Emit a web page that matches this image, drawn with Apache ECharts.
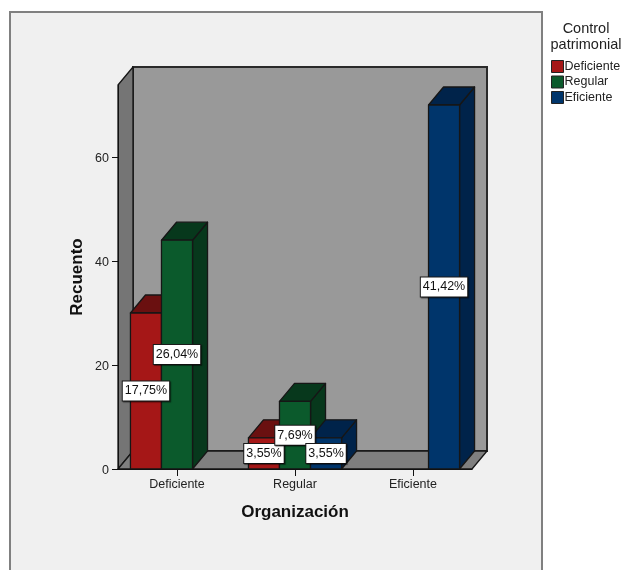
<!DOCTYPE html>
<html>
<head>
<meta charset="utf-8">
<style>html,body{margin:0;padding:0;background:#fff}#chart{width:623px;height:570px}</style>
<script src="https://cdn.jsdelivr.net/npm/echarts@6/dist/echarts.min.js"></script>
</head>
<body>
<div id="chart"></div>
<script>
// Recuento por nivel de organización y control patrimonial
const categories = ['Deficiente', 'Regular', 'Eficiente'];
const yTicks = [0, 20, 40, 60];
const deficiente = [30, 6, null];
const regular = [44, 13, null];
const eficiente = [null, 6, 70];
const totalCasos = 169;

// Perspective offset of the box, and bar width relative to a category band
const DEPTH_X = 15;
const DEPTH_Y = 18;
const BAR_RATIO = 0.263;
const EDGE = '#161616';

const palette = [
  { name: 'Deficiente', values: deficiente, front: '#a51717', top: '#6a1010', side: '#6a1010' },
  { name: 'Regular', values: regular, front: '#0b5a2c', top: '#07381c', side: '#07381c' },
  { name: 'Eficiente', values: eficiente, front: '#00356b', top: '#00234a', side: '#00234a' }
];

const poly = (points, fill, z2) => ({
  type: 'polygon',
  z2: z2 || 0,
  shape: { points },
  style: { fill, stroke: EDGE, lineWidth: 1.3, lineJoin: 'round' }
});

const pct = v => (v / totalCasos * 100).toFixed(2).replace('.', ',') + '%';

// Back wall, left wall and floor of the box
function renderWalls(params) {
  const r = params.coordSys;
  const l = r.x, t = r.y, b = r.y + r.height, w = r.width;
  return {
    type: 'group',
    children: [
      {
        type: 'rect',
        shape: { x: l + DEPTH_X, y: t - DEPTH_Y, width: w, height: r.height },
        style: { fill: '#999999', stroke: '#2a2a2a', lineWidth: 2 }
      },
      poly([[l, t], [l + DEPTH_X, t - DEPTH_Y], [l + DEPTH_X, b - DEPTH_Y], [l, b]], '#757575'),
      poly([[l, b], [l + w, b], [l + w + DEPTH_X, b - DEPTH_Y], [l + DEPTH_X, b - DEPTH_Y]], '#7f7f7f')
    ]
  };
}

// One extruded bar with its centred percentage box
function renderBar(seriesPos) {
  return function (params, api) {
    const value = api.value(1);
    if (value == null || isNaN(value)) return null;
    const band = api.size([1, 0])[0];
    const w = band * BAR_RATIO;
    const base = api.coord([api.value(0), 0]);
    const tip = api.coord([api.value(0), value]);
    const x0 = base[0] + (seriesPos - 1.5) * w;
    const x1 = x0 + w;
    const y0 = base[1], y1 = tip[1];
    const c = palette[seriesPos];
    const labelY = api.coord([api.value(0), value / 2])[1];
    return {
      type: 'group',
      children: [
        poly([[x1, y1], [x1 + DEPTH_X, y1 - DEPTH_Y], [x1 + DEPTH_X, y0 - DEPTH_Y], [x1, y0]], c.side),
        poly([[x0, y1], [x0 + DEPTH_X, y1 - DEPTH_Y], [x1 + DEPTH_X, y1 - DEPTH_Y], [x1, y1]], c.top),
        poly([[x0, y0], [x0, y1], [x1, y1], [x1, y0]], c.front),
        {
          type: 'text',
          z2: 100,
          x: (x0 + x1) / 2,
          y: labelY,
          style: {
            text: pct(value),
            align: 'center',
            verticalAlign: 'middle',
            font: '12.5px "Liberation Sans", Arial, sans-serif',
            fill: '#111',
            backgroundColor: '#fff',
            borderColor: '#1a1a1a',
            borderWidth: 1,
            padding: [3, 2, 3, 2],
            shadowColor: 'rgba(0,0,0,0.45)',
            shadowOffsetX: 1,
            shadowOffsetY: 1,
            shadowBlur: 1
          }
        }
      ]
    };
  };
}

const axisText = { color: '#222', fontFamily: '"Liberation Sans", Arial, sans-serif', fontSize: 12.5 };
const nameText = { color: '#111', fontFamily: '"Liberation Sans", Arial, sans-serif', fontSize: 17, fontWeight: 'bold' };

const chart = echarts.init(document.getElementById('chart'), null, { renderer: 'canvas' });
chart.setOption({
  animation: false,
  backgroundColor: '#fff',
  graphic: [
    {
      type: 'rect',
      z: -10,
      silent: true,
      shape: { x: 10, y: 12, width: 532, height: 570 },
      style: { fill: '#f0f0f0', stroke: '#808080', lineWidth: 2 }
    },
    {
      type: 'text',
      x: 586,
      y: 21,
      silent: true,
      style: {
        text: 'Control\npatrimonial',
        align: 'center',
        font: '14.5px "Liberation Sans", Arial, sans-serif',
        lineHeight: 16,
        fill: '#222'
      }
    }
  ],
  legend: {
    data: palette.map(p => p.name),
    orient: 'vertical',
    left: 546,
    top: 55,
    itemWidth: 12,
    itemHeight: 12,
    itemGap: 2.5,
    icon: 'rect',
    selectedMode: false,
    itemStyle: { borderColor: '#222', borderWidth: 1 },
    textStyle: Object.assign({}, axisText, { padding: [0, 0, 0, -4] })
  },
  grid: { left: 118, right: 151, top: 85, bottom: 101 },
  xAxis: {
    type: 'category',
    data: categories,
    z: 10,
    name: 'Organización',
    nameLocation: 'middle',
    nameGap: 35,
    nameMoveOverlap: false,
    nameTextStyle: nameText,
    axisLine: { lineStyle: { color: '#111', width: 1 } },
    axisTick: { show: true, alignWithLabel: true, length: 7, lineStyle: { color: '#111' } },
    axisLabel: Object.assign({ margin: 9 }, axisText)
  },
  yAxis: {
    type: 'value',
    min: 0,
    max: 73.85,
    z: 10,
    name: 'Recuento',
    nameLocation: 'middle',
    nameGap: 32,
    nameMoveOverlap: false,
    nameTextStyle: nameText,
    splitLine: { show: false },
    axisLine: { show: true, lineStyle: { color: '#111', width: 1 } },
    axisTick: { show: true, length: 6, customValues: yTicks, lineStyle: { color: '#111' } },
    axisLabel: Object.assign({
      margin: 9,
      customValues: yTicks,
      formatter: '{v|{value}}',
      rich: { v: Object.assign({ padding: [4, 0, 0, 0] }, axisText) }
    }, axisText)
  },
  series: [
    {
      type: 'custom',
      name: 'marco',
      z: 1,
      silent: true,
      renderItem: renderWalls,
      data: [[0, 0]],
      encode: { x: 0, y: 1 }
    }
  ].concat(palette.map((p, i) => ({
    type: 'custom',
    name: p.name,
    z: 2,
    silent: true,
    itemStyle: { color: p.front },
    renderItem: renderBar(i),
    encode: { x: 0, y: 1 },
    data: p.values.map((v, k) => [k, v])
  })))
});
</script>
</body>
</html>
